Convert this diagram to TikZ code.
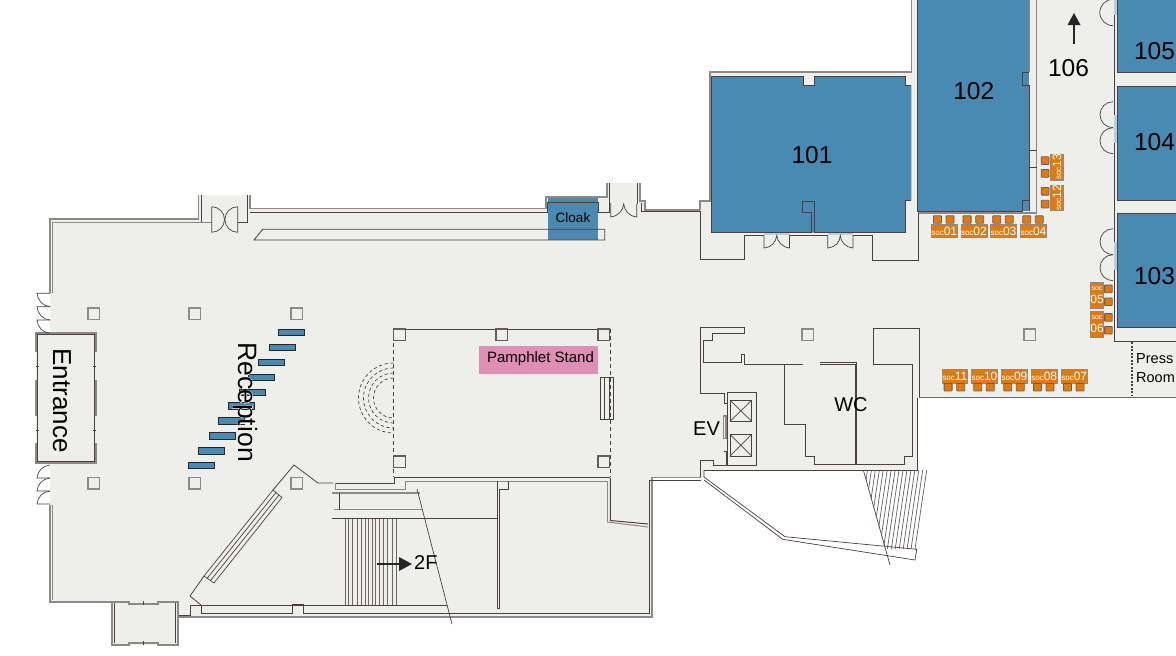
\documentclass[tikz,border=0pt]{standalone}
\usepackage{fontspec}
\setmainfont{Liberation Sans}
\newfontfamily\halofont[FakeBold=3]{Liberation Sans}
\usetikzlibrary{arrows.meta}
\definecolor{floorcol}{HTML}{EEEEEA}
\definecolor{roomblue}{HTML}{4A8AB2}
\definecolor{sillblue}{HTML}{B4D0E0}
\definecolor{boothor}{HTML}{E07A0E}
\definecolor{pinkstand}{HTML}{E08FB4}
\definecolor{walldark}{HTML}{4A4040}
\definecolor{wallgray}{HTML}{8D8987}
\tikzset{
  wallin/.style={draw=walldark,line width=1pt},
  wallout/.style={draw=wallgray,line width=1.25pt},
  thinline/.style={draw=walldark,line width=0.7pt},
  doorline/.style={draw=walldark,line width=0.7pt},
  columnbox/.style={draw=wallgray,line width=1.1pt},
  deskbox/.style={draw=black!85,line width=1pt,fill=roomblue},
  roomfill/.style={fill=roomblue},
  booth/.style={fill=boothor,draw=wallgray,line width=0.6pt,inner sep=0pt,text=white,minimum width=25.7pt,minimum height=13.3pt},
  chair/.style={fill=boothor,draw=walldark!85,line width=0.8pt,rounded corners=0.6pt},
  label/.style={inner sep=0pt,text=black},
  uparrow/.style={draw=black!85,line width=1.1pt},
  tip/.style={fill=black!85},
}
\newcommand{\soctxt}[1]{\fontsize{8}{8}\selectfont soc\fontsize{12}{12}\selectfont #1}
\newcommand{\boothtop}[3]{% x, y, number: chairs above
  \node[booth,anchor=north west] (soc#3) at (#1,#2) {\soctxt{#3}};
  \draw[chair] (#1+2.4,#2-8.2) rectangle ++(8,7.4);
  \draw[chair] (#1+15,#2-8.2) rectangle ++(8,7.4);}
\newcommand{\boothbottom}[3]{% x, y, number: chairs below
  \node[booth,anchor=north west] (soc#3) at (#1,#2) {\soctxt{#3}};
  \draw[chair] (#1+2.4,#2+14.2) rectangle ++(8,7.4);
  \draw[chair] (#1+15,#2+14.2) rectangle ++(8,7.4);}
\newcommand{\boothleft}[3]{% center x, center y, number: chairs left
  \node[booth,rotate=90] (soc#3) at (#1,#2) {\soctxt{#3}};
  \draw[chair] (#1-15.8,#2-10.2) rectangle ++(7.8,7.6);
  \draw[chair] (#1-15.8,#2+2.6) rectangle ++(7.8,7.6);}
\newcommand{\boothright}[3]{% center x, center y, number: chairs right
  \node[booth,minimum width=13.3pt,minimum height=26pt,align=center] (soc#3) at (#1,#2)
     {\fontsize{7}{7}\selectfont soc\\[1pt]\fontsize{12}{12}\selectfont #3};
  \draw[chair] (#1+7.6,#2-10.2) rectangle ++(7.6,7.6);
  \draw[chair] (#1+7.6,#2+2.6) rectangle ++(7.6,7.6);}
\begin{document}
\begin{tikzpicture}[x=1pt,y=-1pt]
\useasboundingbox (0,0) rectangle (1176,656);
\clip (0,0) rectangle (1176,656);
\fill[white] (0,0) rectangle (1176,656);

% floor
\fill[floorcol] (50,219) -- (198,219) -- (198,195) -- (250,195) -- (250,208) -- (546,208) -- (546,197) -- (607,197) -- (607,183) -- (640,183) -- (640,201) -- (645,201) -- (645,210) -- (700,210) -- (700,201) -- (710,201) -- (710,72) -- (911,72) -- (911,0) -- (1176,0) -- (1176,398) -- (917,398) -- (917,470) -- (704,470) -- (704,477) -- (652,477) -- (652,617) -- (178,617) -- (178,645) -- (112,645) -- (112,602) -- (50,602) -- cycle;
\fill[floorcol] (36,333) rectangle (96,463);

% rooms
\fill[roomfill] (711.7,76) -- (803.3,76) -- (803.3,85) -- (814,85) -- (814,76) -- (905,76) -- (905,85) -- (911.3,85) -- (911.3,200) -- (905,200) -- (905,232.7) -- (711.7,232.7) -- cycle;
\fill[roomfill] (917.7,0) rectangle (1029.3,211);
\fill[roomfill] (1117.3,0) rectangle (1176,72.3);
\fill[roomfill] (1117.3,86.3) rectangle (1176,200);
\fill[roomfill] (1117.3,213.7) rectangle (1176,327.3);
\fill[roomfill] (547.7,196.7) rectangle (598.3,240);
\fill[pinkstand] (479,346) rectangle (598,374);

% sills
\fill[sillblue] (763.5,232.7) rectangle (789.5,235);
\fill[sillblue] (827.7,232.7) rectangle (853,235);
\fill[sillblue] (1113.5,115) rectangle (1117,143);
\fill[sillblue] (1113.5,241.7) rectangle (1117,270);
\fill[sillblue] (1113.5,0) rectangle (1117,15);

% outer walls, gray
\draw[wallout] (50,293) -- (50,219) -- (198.3,219) -- (198.3,195);
\draw[wallout] (50,505) -- (50,602) -- (112,602);
\draw[wallout] (250,195) -- (250,208.5) -- (546,208.5) -- (546,197) -- (607,197) -- (607,183);
\draw[wallout] (640,183) -- (640,201) -- (645,201) -- (645,210) -- (700,210);
\draw[wallout] (700,210) -- (700,201) -- (710,201) -- (710,72) -- (911.5,72) -- (911.5,0);
\draw[wallout] (1029.5,0) -- (1029.5,72);
\draw[wallout] (1036.7,0) -- (1036.7,213) -- (918,213);
\draw[wallout] (178,617) -- (652,617) -- (652,477.5) -- (700.7,477.5);

% inner walls, dark
\draw[wallin,draw=wallgray] (52,293) -- (52,222) -- (211.7,222);
\draw[wallin] (201.7,195) -- (201.7,222);
\draw[wallin] (237.7,222) -- (247.7,222) -- (247.7,195);
\draw[wallin] (250,212) -- (547,212) -- (547,202) -- (598,202) -- (598,212) -- (609,212) -- (609,183);
\draw[wallin] (637,183) -- (637,204);
\draw[wallin] (641,203) -- (641,211) -- (700,211);
\draw[wallin,draw=wallgray] (52,505) -- (52,600);
\draw[wallin] (178,615) -- (190,615) -- (190,605.3) -- (201.7,605.3) -- (201.7,613.3) -- (292.3,613.3) -- (292.3,604.3) -- (303.3,604.3) -- (303.3,613.3) -- (649,613.3) -- (649,480) -- (700.7,480);
\draw[wallin] (190,605.3) -- (447,605.3);

% room outlines
\draw[wallin] (911.3,85) -- (905,85) -- (905,76) -- (814,76) -- (814,85) -- (803.3,85) -- (803.3,76) -- (711.7,76) -- (711.7,232.7) -- (811,232.7) -- (811,212) -- (802.3,212) -- (802.3,201) -- (814.3,201) -- (814.3,232.7) -- (905,232.7) -- (905,200) -- (911.3,200);
\draw[wallin] (917.7,0) -- (917.7,211.3) -- (1022,211.3) -- (1022,200) -- (1029.3,200);
\draw[wallin] (1029.3,85) -- (1022.3,85) -- (1022.3,72) -- (1029.3,72);
\draw[wallin] (1029.3,85) -- (1029.3,211);
\draw[wallin] (1029.3,150) -- (1036.7,150);
\draw[wallin] (1029.3,167) -- (1036.7,167);
\draw[wallin] (1117.3,72.3) -- (1117.3,0);
\draw[wallin] (1176,72.3) -- (1117.3,72.3);
\draw[wallin] (1176,86.3) -- (1117.3,86.3) -- (1117.3,200) -- (1176,200);
\draw[wallin] (1176,213.7) -- (1117.3,213.7) -- (1117.3,327.3) -- (1176,327.3);
\draw[wallin] (1114.3,15) -- (1114.3,115);
\draw[wallin] (1114.3,143) -- (1114.3,241.7);
\draw[wallin] (1114.3,270) -- (1114.3,341.3) -- (1176,341.3);
\draw[wallin,dash pattern=on 2pt off 1.5pt,line width=1.3pt] (1132,342) -- (1132,396);

% annex below 101
\draw[wallin] (700.5,211) -- (700.5,259) -- (744.3,259) -- (744.3,235) -- (764,235);
\draw[wallin] (789.5,235) -- (827.7,235);
\draw[wallin] (853,235) -- (872.7,235) -- (872.7,260) -- (918,260) -- (918,213);
% doors 101
\draw[doorline] (764,235) -- (764,248) .. controls (772,247) and (776,242) .. (776.7,235.5) .. controls (777.5,242) and (782,247) .. (789.5,248) -- (789.5,235);
\draw[doorline] (827.7,235) -- (827.7,248) .. controls (836,247) and (840,242) .. (840.3,235.5) .. controls (841,242) and (845,247) .. (853,248) -- (853,235);

% doors right corridor
\draw[doorline] (1113,-0.7) arc[start angle=270,end angle=90,radius=13.2];
\draw[doorline] (1113,101.7) arc[start angle=270,end angle=90,radius=13];
\draw[doorline] (1113,127.7) arc[start angle=270,end angle=90,radius=13];
\draw[doorline] (1113,228.7) arc[start angle=270,end angle=90,radius=13];
\draw[doorline] (1113,254.7) arc[start angle=270,end angle=90,radius=13];

% top vestibule doors
\draw[doorline] (211.7,206.7) -- (211.7,232.3) arc[start angle=90,end angle=-90,radius=12.8];
\draw[doorline] (237.7,206.7) -- (237.7,232.3) arc[start angle=90,end angle=270,radius=12.8];
\draw[doorline] (610.7,203) -- (610.7,217) .. controls (618,216) and (623,211) .. (623.7,204) .. controls (624.5,211) and (629,216) .. (636.7,217) -- (636.7,204);

% counter
\draw[thinline,line width=0.85pt] (254,240) -- (262.7,229.3) -- (604.7,229.3) -- (604.7,240) -- cycle;

% entrance
\draw[wallout] (36,352) -- (36,333) -- (96,333) -- (96,352);
\draw[wallout] (36,443) -- (36,463) -- (96,463) -- (96,443);
\draw[wallout] (36,380) -- (36,416);
\draw[wallout] (96,380) -- (96,416);
\draw[thinline] (37.5,334.5) rectangle (94,461.5);
\foreach \ty in {366,430} {
  \draw[thinline] (35.5,\ty) -- (39,\ty);
  \draw[thinline] (92.5,\ty) -- (96,\ty);
}
% entrance doors
\foreach \dy in {293.3,306.7,320} {
  \draw[doorline] (50,\dy) -- (37,\dy) .. controls (37.5,\dy+7) and (43,\dy+13) .. (50,\dy+13.3);
}
\foreach \dy in {465,478,491} {
  \draw[doorline] (50,\dy) .. controls (43,\dy+.5) and (37.5,\dy+6) .. (37,\dy+13) -- (50,\dy+13);
}

% bottom left vestibule
\draw[wallout] (112,602) -- (112,645) -- (129,645) -- (129,643) -- (158,643) -- (158,645) -- (178,645) -- (178,602) -- (158,602) -- (158,604) -- (129,604) -- (129,602) -- (112,602);
\draw[thinline] (114.5,603) -- (114.5,643);
\draw[thinline] (175.8,603) -- (175.8,643);
\draw[thinline] (143.7,601) -- (143.7,605);
\draw[thinline] (143.7,641) -- (143.7,645);

% diagonal escalator and walls
\draw[thinline,line width=0.8pt] (333,483) -- (318,483) -- (294,465) -- (273,490);
\draw[thinline,line width=0.8pt] (204,576) -- (190,596) -- (201,605);
\draw[thinline] (273,490) -- (282,497.5) -- (214,583) -- (204,576) -- cycle;
\draw[thinline] (276,492.5) -- (207,578.5);
\draw[thinline] (279,495) -- (210.5,580.5);

% stairs block
\draw[wallin] (335,483) -- (394.5,483) -- (394.5,477) -- (610,477);
\draw[wallin,draw=wallgray] (335,483) -- (335,489) -- (405.5,489) -- (405.5,481) -- (607.5,481) -- (607.5,522);
\draw[wallin] (610.3,478) -- (610.3,520.5) -- (648,524);
\draw[wallin,draw=wallgray] (607.5,522) -- (648,527);
\draw[wallout] (332,493) -- (420,493);
\draw[wallout] (334,509.5) -- (422,509.5);
\draw[thinline] (339.5,493) -- (339.5,509.5);
\draw[wallin,line width=1.5pt] (332,518.5) -- (497.5,518.5);
\draw[wallin] (497,481) -- (497,608) -- (499,608) -- (499,489) -- (508,489) -- (508,481);
\foreach \sx in {345,348,352,357,361,365,368,372,375,379,383,387,392,396} {
  \draw[thinline,draw=walldark!80] (\sx,519) -- (\sx,605);
}
\draw[thinline] (417,489) -- (452,624);
\draw[thinline] (863.3,470) -- (890,565);

% pamphlet area
\draw[wallin] (393.5,329) -- (610,329);
\draw[thinline,dash pattern=on 4pt off 3pt,line width=0.8pt] (393.5,329) -- (393.5,477);
\draw[thinline,dash pattern=on 4pt off 3pt,line width=0.8pt] (610,329) -- (610,477);
\foreach \rr in {35,30,25,20} {
  \draw[thinline,dash pattern=on 3.2pt off 2.6pt] (393.5,398-\rr) arc[start angle=270,end angle=90,radius=\rr];
}
\draw[thinline] (600.3,377) rectangle (613.3,419);
\draw[thinline] (604.5,377) -- (604.5,419);
\draw[thinline] (609,377) -- (609,419);

% columns
\foreach \cx/\cy in {88/308,189/308,291/308,88/477.5,189/477.5,291/477.5,802/329,1024/329} {
  \draw[columnbox] (\cx,\cy) rectangle ++(11.8,11.5);
}
\foreach \cx/\cy in {393.5/329,496/329,598/329,393.5/456,598/456} {
  \draw[columnbox,draw=walldark!85] (\cx,\cy) rectangle ++(11.8,11.5);
}

% lower wing
\draw[thinline] (704,470) -- (704,477) -- (785,536.7) -- (916.7,549.3) -- (915,560) -- (782.7,539.3) -- (704,480);
\begin{scope}
\clip (863.3,470) -- (930,470) -- (918,549.6) -- (885,549.6) -- cycle;
\foreach \hk in {0,...,17} {
  \draw[thinline,draw=walldark!85] (863.5+\hk*3.95,470) -- (851.8+\hk*3.95,549);
}
\end{scope}

% elevator and WC
\draw[wallin] (700.3,393.3) -- (700.3,327.7) -- (744.3,327.7) -- (744.3,333.7) -- (712.3,333.7) -- (712.3,340.7) -- (703.7,340.7) -- (703.7,362.3) -- (741.7,362.3) -- (741.7,354.3) -- (744.3,354.3) -- (744.3,364) -- (802.7,364);
\draw[wallin] (700.3,393.3) -- (724.3,393.3) -- (724.3,403.3) -- (727.3,403.3);
\draw[wallin] (727.3,392.7) rectangle (756.3,465);
\draw[wallin] (730,400.3) rectangle (751.7,421.3);
\draw[thinline] (730,400.3) -- (751.7,421.3);
\draw[thinline] (751.7,400.3) -- (730,421.3);
\draw[wallin] (730,434.3) rectangle (751.7,456);
\draw[thinline] (730,434.3) -- (751.7,456);
\draw[thinline] (751.7,434.3) -- (730,456);
\draw[wallout] (723.3,416) rectangle (726,438.3);
\draw[wallin] (723.7,451) -- (726.7,451) -- (726.7,465) -- (713.3,465) -- (713.3,460.7) -- (700.7,460.7) -- (700.7,477);
\draw[wallin] (784.3,364) -- (784.3,424.7) -- (805.7,424.7) -- (805.7,456) -- (814.3,456) -- (814.3,464.3) -- (855,464.3) -- (855,364) -- (820,364);
\draw[wallin] (856.7,362.5) -- (820,362.5);
\draw[wallin] (856.7,362.5) -- (856.7,464.3) -- (904.3,464.3) -- (904.3,456) -- (912.7,456) -- (912.7,364) -- (873.3,364) -- (873.3,328.7) -- (919.7,328.7) -- (919.7,398);
\draw[wallin] (917,398) -- (917,470) -- (704,470);
\draw[wallin,line width=1.3pt,draw=walldark!80] (919,397.3) -- (1176,397.3);

% desks
\foreach \dx/\dy in {278.3/329.3,269.3/344.3,258.7/359.3,248/374.3,239.5/389,228.7/402.7,218.3/417.7,209/432.7,198.3/447.7,188/462} {
  \draw[deskbox] (\dx,\dy) rectangle ++(26,6.6);
}

% booths
\boothtop{931}{224}{01}
\boothtop{960.7}{224}{02}
\boothtop{990.3}{224}{03}
\boothtop{1020.3}{224}{04}
\boothbottom{941.7}{369.3}{11}
\boothbottom{971.3}{369.3}{10}
\boothbottom{1001.3}{369.3}{09}
\boothbottom{1031}{369.3}{08}
\boothbottom{1061}{369.3}{07}
\boothleft{1057}{167}{13}
\boothleft{1057}{197.7}{12}
\boothright{1097}{295.3}{05}
\boothright{1097}{323.8}{06}

% arrows
\draw[uparrow] (1074,44) -- (1074,24);
\fill[tip] (1074,13) -- (1080.5,25) -- (1067.5,25) -- cycle;
\draw[uparrow] (377,564) -- (400,564);
\fill[tip] (412,564) -- (399,557) -- (399,571) -- cycle;

% labels
\node[label,font=\fontsize{24.5}{24.5}\selectfont] (r101) at (812,155) {101};
\node[label,font=\fontsize{24.5}{24.5}\selectfont] (r102) at (973.7,91) {102};
\node[label,font=\fontsize{24.5}{24.5}\selectfont] (r103) at (1154.5,276) {103};
\node[label,font=\fontsize{24.5}{24.5}\selectfont] (r104) at (1154.5,142) {104};
\node[label,font=\fontsize{24.5}{24.5}\selectfont] (r105) at (1154.5,51) {105};
\node[label,font=\fontsize{24.5}{24.5}\selectfont] (r106) at (1068.5,68) {106};
\node[label,font=\fontsize{13.5}{13.5}\selectfont] (cloak) at (573,218) {Cloak};
\node[label,font=\fontsize{15}{15}\selectfont] (pamph) at (540.5,358.5) {Pamphlet Stand};
\node[label,font=\fontsize{20}{20}\selectfont] (wc) at (851,405) {WC};
\node[label,font=\fontsize{20}{20}\selectfont] (ev) at (706.5,429) {EV};
\node[label,font=\fontsize{20}{20}\selectfont,anchor=west] (twof) at (414,563) {2F};
\node[label,font=\fontsize{14.5}{19}\selectfont,align=left,anchor=north west] (press) at (1136,353) {Press\\Room};
\node[label,font=\fontsize{26}{26}\selectfont,rotate=-90] (entr) at (62,400.5) {Entrance};
\node[label,text=white,font=\fontsize{26.6}{26.6}\halofont,rotate=-90] (rechalo) at (245,402) {Reception};
\node[label,font=\fontsize{26.6}{26.6}\selectfont,rotate=-90] (rec) at (245,402) {Reception};
\end{tikzpicture}
\end{document}
